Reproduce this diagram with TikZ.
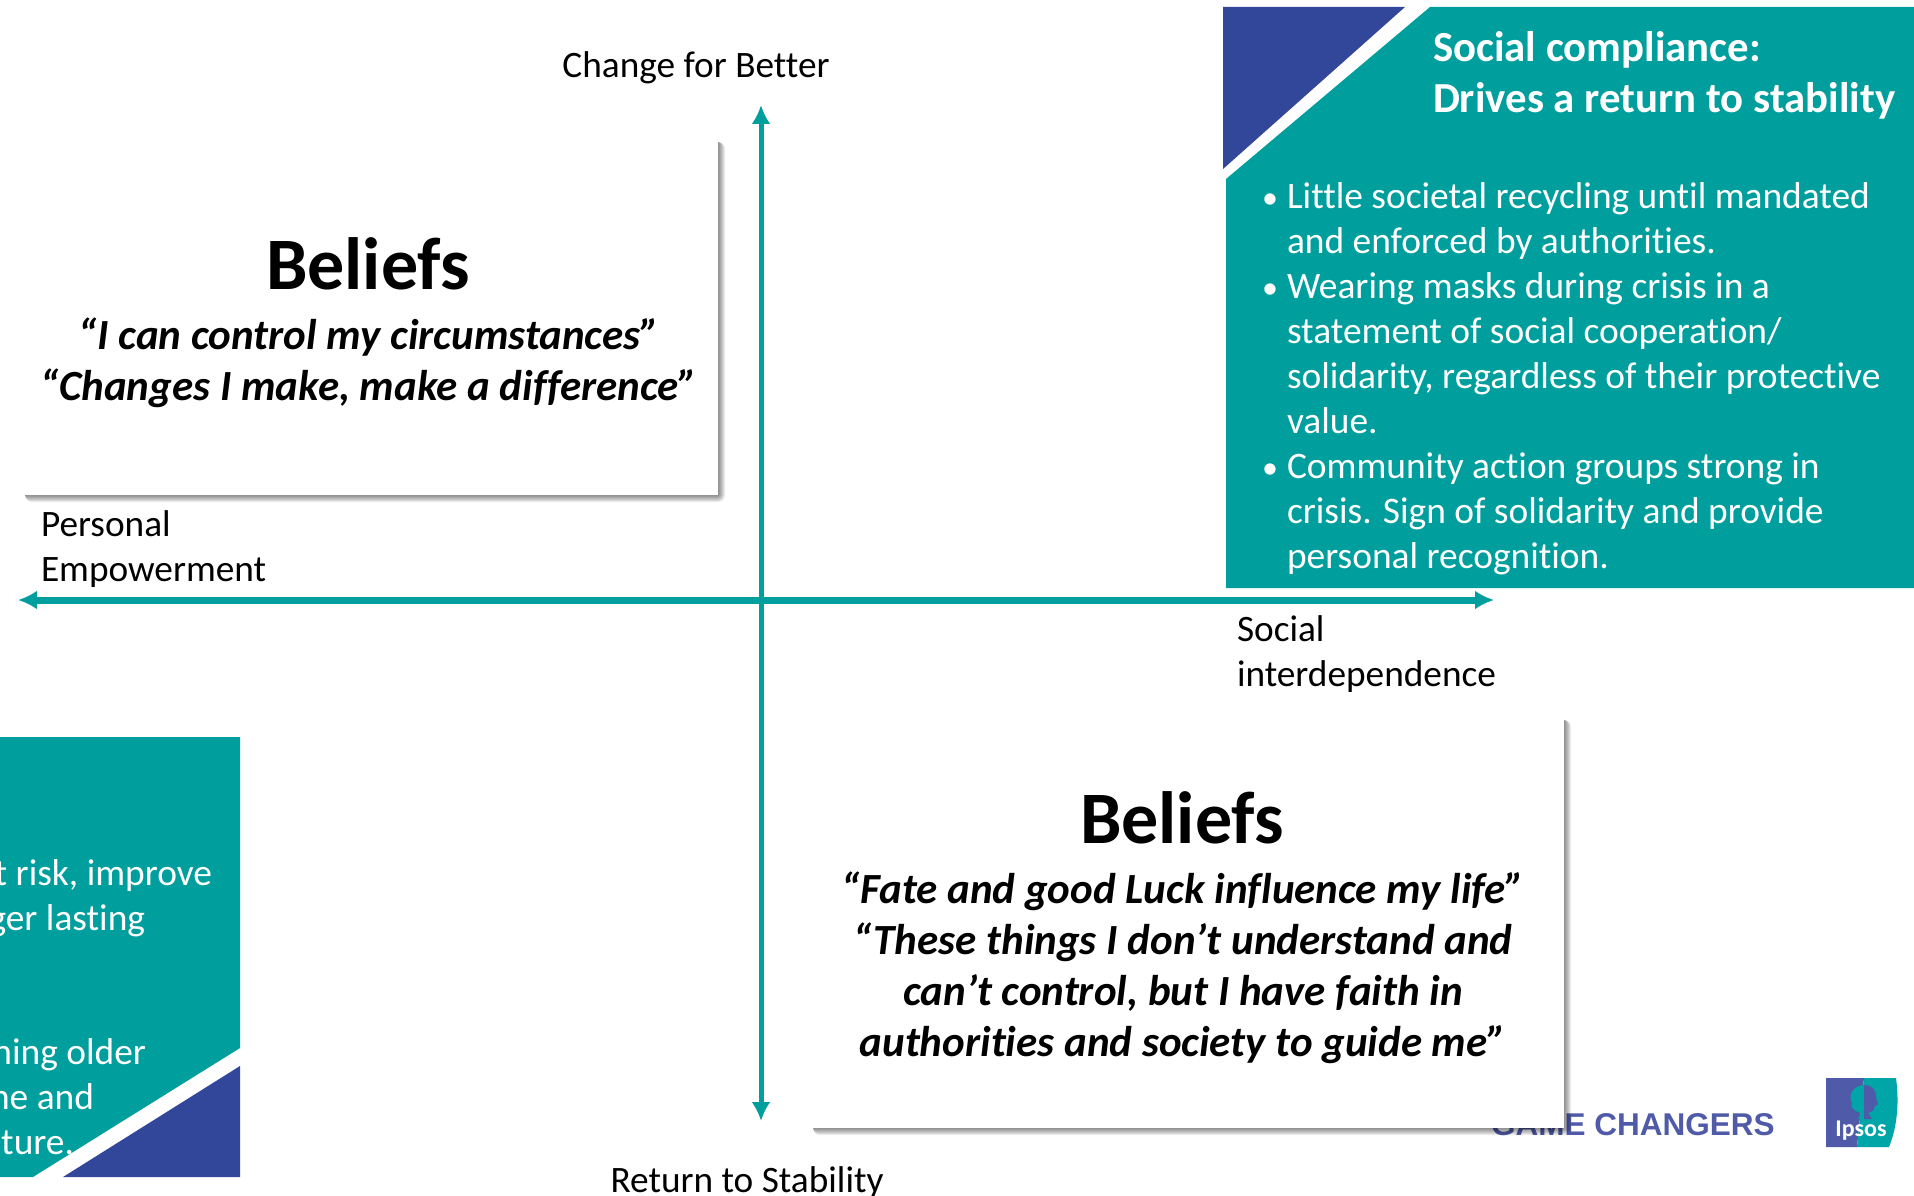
\documentclass[tikz,border=0pt]{standalone}
\usepackage{fontspec}
\setmainfont{Carlito}[Ligatures=NoCommon]
\newfontfamily\logofont{Liberation Sans}
\usetikzlibrary{arrows.meta}
\definecolor{ipteal}{HTML}{009E9C}
\definecolor{ipblue}{HTML}{32469A}
\definecolor{logoblue}{HTML}{4F5BA8}
\definecolor{logoteal}{HTML}{00A5A8}
\newcommand{\fs}[1]{\fontsize{#1}{#1}\selectfont}
\tikzset{
  x=1pt,y=-1pt,
  lbl/.style={inner sep=0pt,outer sep=0pt,anchor=base west,font=\fs{37.3}},
  lblc/.style={inner sep=0pt,outer sep=0pt,anchor=base,font=\fs{37.3}},
  wht/.style={lbl,text=white,font=\fs{37.4}},
  whr/.style={inner sep=0pt,outer sep=0pt,anchor=base east,text=white,font=\fs{37.4}},
  hdr/.style={lbl,text=white,font=\fs{42.8}\bfseries},
  big/.style={lblc,font=\fs{74}\bfseries},
  quot/.style={lblc,font=\fs{43}\bfseries\itshape},
  axisline/.style={draw=ipteal,-{Latex[length=19pt,width=19pt]}},
  panel/.style={fill=ipteal},
  corner/.style={fill=ipblue}
}
\newcommand{\softshadow}[4]{%
  \foreach \s in {7,6,5,4,3,2,1}{
    \fill[black,opacity=0.075,rounded corners=\s pt] (#1+7,#2+7) rectangle (#3+\s,#4+\s);
  }}
\begin{document}
\begin{tikzpicture}
\useasboundingbox (0,0) rectangle (1914,1196);
\fill[white] (0,0) rectangle (1914,1196);
% top-right panel
\fill[panel] (1430,7) -- (1914,7) -- (1914,588) -- (1226,588) -- (1226,179) -- cycle;
\fill[corner] (1223,7) -- (1405,7) -- (1223,169) -- cycle;
\node[hdr] (h1) at (1433,61.5) {Social compliance:};
\node[hdr] (h2) at (1433,112.5) {Drives a return to stability};
\foreach \n/\y in {b1/208,b2/298,b3/478}{\node[lbl,text=white,font=\fs{32}] (\n) at (1262,\y) {•};}
\foreach \n/\y/\t in {l1/208/{Little societal recycling until mandated},
  l2/253/{and enforced by authorities.},
  l3/298/{Wearing masks during crisis in a},
  l4/343/{statement of social cooperation/},
  l5/388/{solidarity, regardless of their protective},
  l6/433/{value.},
  l7/478/{Community action groups strong in},
  l8/523/{crisis. Sign of solidarity and provide},
  l9/568/{personal recognition.}}{\node[wht] (\n) at (1287,\y) {\t};}
% bottom-left panel
\fill[panel] (0,737) -- (240,737) -- (240,1048) -- (33,1177) -- (0,1177) -- cycle;
\fill[corner] (240,1066) -- (63,1177) -- (240,1177) -- cycle;
\node[whr] (f1) at (212,885) {t risk, improve};
\node[whr] (f2) at (145,930) {ger lasting};
\node[whr] (f3) at (146,1064) {ning older};
\node[whr] (f4) at (94,1109) {ne and};
\node[whr] (f5) at (74,1154) {ture.};
% logos
\node[inner sep=0pt,anchor=base west,text=logoblue,font=\logofont\fs{31.5}\bfseries] (gc) at (1491,1135) {GAME CHANGERS};
\fill[logoblue] (1826,1078) -- (1864,1078) -- (1857,1147) -- (1826,1147) -- cycle;
\fill[logoteal] (1864,1078) -- (1896,1078) .. controls (1899,1100) and (1898,1125) .. (1889,1147) -- (1857,1147) -- cycle;
\fill[logoteal] (1864,1085) .. controls (1852,1086) and (1848,1096) .. (1852,1103) .. controls (1850,1110) and (1858,1112) .. (1861,1113) -- (1858,1119) -- (1864,1119) -- cycle;
\fill[logoblue] (1864,1085) .. controls (1874,1085) and (1877,1093) .. (1876,1098) -- (1878,1104) -- (1875,1106) .. controls (1874,1112) and (1870,1112) .. (1868,1113) -- (1872,1119) -- (1864,1119) -- cycle;
\node[inner sep=0pt,anchor=base,text=white,font=\fs{24}\bfseries] (ips) at (1861,1136) {Ipsos};
% white belief boxes
\softshadow{18}{135}{718}{495}
\fill[white] (18,135) rectangle (718,495);
\softshadow{806}{713}{1564}{1128}
\fill[white] (806,713) rectangle (1564,1128);
\node[big] (bl1) at (368,289) {Beliefs};
\node[quot] (q1) at (369,349) {“I can control my circumstances”};
\node[quot] (q2) at (369,400) {“Changes I make, make a difference”};
\node[big] (bl2) at (1182,843) {Beliefs};
\node[quot] (q3) at (1183,903.5) {“Fate and good Luck influence my life”};
\node[quot] (q4) at (1183,954.5) {“These things I don’t understand and};
\node[quot] (q5) at (1183,1005.5) {can’t control, but I have faith in};
\node[quot] (q6) at (1183,1056.5) {authorities and society to guide me”};
% axes
\coordinate (top) at (761,105);
\coordinate (bottom) at (761,1121);
\coordinate (left) at (18,600);
\coordinate (right) at (1494,600);
\coordinate (cx) at (761,600);
\draw[axisline,line width=5pt] (cx) -- (top);
\draw[axisline,line width=5pt] (cx) -- (bottom);
\draw[axisline,line width=7pt] (cx) -- (left);
\draw[axisline,line width=7pt] (cx) -- (right);
% axis labels
\node[lblc] (a1) at (696,78) {Change for Better};
\node[lblc] (a2) at (747,1192) {Return to Stability};
\node[lbl] (a3) at (41,536.5) {Personal};
\node[lbl] (a4) at (41,581.5) {Empowerment};
\node[lbl] (a5) at (1237,641.5) {Social};
\node[lbl] (a6) at (1237,686.5) {interdependence};
\end{tikzpicture}
\end{document}
